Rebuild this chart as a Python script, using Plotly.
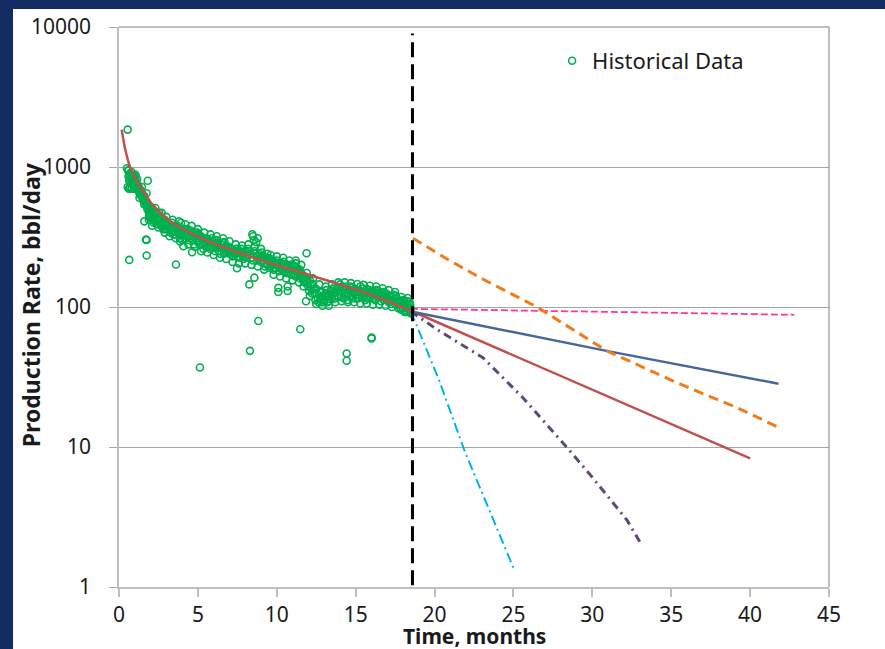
import plotly.graph_objects as go

# ---------------- data ----------------
hist_time = [
    0.50, 0.55, 0.55, 0.60, 0.65, 0.65, 0.70, 0.72, 0.78, 0.80, 0.85, 0.88, 0.92, 0.95, 1.00, 1.02, 1.05, 1.08, 1.10,
    1.15, 1.20, 1.25, 1.30, 1.35, 1.40, 1.45, 1.50, 1.55, 1.60, 1.65, 1.70, 1.71, 1.75, 1.75, 1.80, 1.82, 1.85, 1.90, 1.95, 2.00,
    2.05, 2.10, 2.15, 2.20, 2.25, 2.28, 2.30, 2.35, 2.40, 2.45, 2.50, 2.55, 2.60, 2.65, 2.70, 2.75, 2.80, 2.85, 2.90, 2.95, 3.00,
    3.05, 3.10, 3.20, 3.30, 3.40, 3.50, 3.55, 3.61, 3.65, 3.75, 3.85, 3.87, 3.93, 4.00, 4.08, 4.10, 4.20, 4.30, 4.40, 4.50, 4.60, 4.63, 4.70, 4.80, 4.90, 5.00, 5.05,
    5.13, 5.10, 5.20, 5.30, 5.40, 5.50, 5.60, 5.70, 5.80, 5.90, 6.00, 6.10, 6.20, 6.30, 6.40, 6.50, 6.60, 6.70, 6.80, 6.90, 7.00, 7.10, 7.20,
    7.30, 7.40, 7.48, 7.50, 7.60, 7.70, 7.80, 7.90, 8.00, 8.10, 8.20, 8.26, 8.30, 8.35, 8.45, 8.50, 8.55, 8.58, 8.60, 8.70, 8.79, 8.83, 8.85, 8.90, 9.00, 9.10, 9.20, 9.30, 9.40,
    9.50, 9.60, 9.70, 9.80, 9.90, 10.00, 10.10, 10.10, 10.20, 10.30, 10.40, 10.50, 10.60, 10.69, 10.69, 10.70, 10.80, 10.90, 11.00, 11.10, 11.20, 11.30, 11.40, 11.49, 11.50,
    11.60, 11.70, 11.80, 11.85, 11.89, 11.90, 12.00, 12.10, 12.20, 12.30, 12.40, 12.50, 12.60, 12.70, 12.80, 12.90, 13.00, 13.10, 13.20, 13.30, 13.40, 13.50,
    13.60, 13.70, 13.80, 13.90, 14.00, 14.10, 14.20, 14.30, 14.43, 14.43, 14.40, 14.50, 14.60, 14.70, 14.80, 14.90, 15.00, 15.10, 15.20, 15.30, 15.40, 15.50, 15.60,
    15.70, 15.80, 15.90, 16.01, 16.01, 16.00, 16.10, 16.20, 16.30, 16.40, 16.50, 16.60, 16.70, 16.80, 16.90, 17.00, 17.10, 17.20, 17.30, 17.40, 17.50, 17.60, 17.70,
    17.80, 17.90, 18.00, 18.05, 18.10, 18.15, 18.20, 18.25, 18.30, 18.35, 18.40, 18.45, 18.50,
    # second pass through the band
    0.58, 0.62, 0.68, 0.75, 0.82, 0.90, 0.98, 1.04, 1.12,
    1.18, 1.28, 1.38, 1.48, 1.58, 1.68, 1.78, 1.88, 1.98, 1.60, 1.90,
    2.08, 2.18, 2.32, 2.42, 2.52, 2.62, 2.72, 2.82, 2.92, 2.12,
    3.15, 3.25, 3.35, 3.45, 3.60, 3.70, 3.80, 3.95, 4.15, 4.25, 4.35, 4.45, 4.55, 4.65, 4.75, 4.85, 4.95,
    5.15, 5.25, 5.35, 5.45, 5.55, 5.65, 5.75, 5.85, 5.95, 6.05, 6.15, 6.25, 6.35, 6.45, 6.55, 6.65, 6.75, 6.85, 6.95, 7.05, 7.15,
    7.35, 7.45, 7.55, 7.65, 7.75, 7.85, 7.95, 8.05, 8.15, 8.40, 8.50, 8.65, 8.75, 8.95, 9.05, 9.15, 9.25, 9.35, 8.70,
    9.45, 9.55, 9.65, 9.75, 9.85, 9.95, 10.05, 10.15, 10.25, 10.35, 10.45, 10.55, 10.65, 10.75, 10.85, 10.95, 11.05, 11.15, 11.25, 11.35, 11.45, 11.20,
    11.55, 11.65, 11.75, 11.95, 12.05, 12.15, 12.25, 12.35, 12.45, 12.55, 12.65, 12.75, 12.85, 12.95, 13.05, 13.15, 13.25, 13.35, 13.45, 13.55,
    13.65, 13.75, 13.85, 13.95, 14.05, 14.15, 14.25, 14.35, 14.55, 14.65, 14.75, 14.85, 14.95, 15.05, 15.15, 15.25, 15.35, 15.45, 15.55, 15.65,
    15.75, 15.85, 15.95, 16.05, 16.15, 16.25, 16.35, 16.45, 16.55, 16.65, 16.75, 16.85, 16.95, 17.05, 17.15, 17.25, 17.35, 17.45, 17.55, 17.65, 17.75,
    17.85, 17.95, 18.02, 18.12, 18.22, 18.28, 18.38, 18.42, 18.48,
    # band edges
    0.60, 0.70, 0.80, 0.95, 1.05,
    1.15, 1.30, 1.45, 1.60, 1.75, 1.90, 2.00,
    2.10, 2.30, 2.50, 2.70, 2.90, 3.00,
    3.20, 3.40, 3.60, 3.80, 4.00, 4.20, 4.40, 4.60, 4.80, 5.00,
    5.20, 5.40, 5.60, 5.80, 6.00, 6.20, 6.40, 6.60, 6.80, 7.00, 7.20,
    7.40, 7.60, 7.80, 8.00, 8.20, 8.40, 8.60, 8.80, 9.00, 9.20, 9.40,
    9.60, 9.80, 10.00, 10.20, 10.40, 10.60, 10.80, 11.00, 11.20, 11.40, 11.55,
    11.70, 11.90, 12.10, 12.30, 12.50, 12.70, 12.90, 13.10, 13.30, 13.50,
    13.70, 13.90, 14.10, 14.30, 14.50, 14.70, 14.90, 15.10, 15.30, 15.50, 15.70, 15.90, 16.10, 16.30, 16.50, 16.70, 16.90, 17.10, 17.30, 17.50, 17.70,
    17.90, 18.10, 18.30, 18.50,
]
hist_rate = [
    980, 1850, 720, 860, 217, 800, 900, 760, 840, 700, 880, 780, 820, 740, 860, 800, 760, 720, 700,
    760, 680, 720, 650, 690, 620, 660, 600, 580, 620, 560, 540, 303, 301, 233, 500, 797, 520, 470, 480, 440,
    470, 420, 450, 400, 480, 409, 430, 460, 390, 440, 420, 470, 400, 380, 430, 410, 360, 400, 420, 380, 390,
    360, 400, 370, 340, 380, 350, 330, 201, 370, 340, 310, 294, 400, 350, 272, 330, 360, 320, 340, 310, 330, 246, 300, 340, 310, 290, 330,
    37, 300, 320, 280, 310, 270, 300, 290, 260, 310, 280, 250, 300, 270, 240, 280, 260, 290, 250, 270, 240, 260, 230,
    250, 240, 189, 260, 230, 250, 240, 220, 250, 235, 260, 145, 48.6, 240, 331, 215, 300, 162, 250, 230, 310, 79.5, 220, 240, 210, 230, 205, 225, 200,
    215, 195, 210, 185, 200, 215, 137, 128, 190, 205, 180, 200, 175, 140, 130, 195, 185, 170, 200, 180, 165, 190, 175, 69.4, 160,
    170, 155, 165, 110, 242, 150, 140, 155, 135, 145, 125, 135, 115, 128, 108, 120, 112, 125, 108, 118, 130, 115,
    125, 140, 120, 130, 145, 118, 135, 125, 46.5, 41.3, 140, 112, 130, 120, 138, 125, 115, 132, 122, 140, 118, 128, 112,
    135, 120, 126, 60.5, 59.5, 130, 115, 124, 132, 118, 126, 110, 122, 128, 115, 120, 108, 118, 112, 122, 105, 115, 110,
    100, 108, 98, 112, 102, 95, 105, 98, 110, 100, 94, 104, 97,
    # second pass through the band
    940, 700, 830, 880, 760, 850, 780, 830, 740,
    720, 700, 650, 630, 600, 580, 530, 500, 460, 409, 420,
    450, 430, 470, 420, 440, 420, 390, 420, 360, 500,
    390, 360, 400, 330, 360, 380, 350, 330, 310, 340, 360, 300, 350, 320, 280, 320, 340,
    280, 310, 260, 290, 310, 270, 300, 280, 265, 300, 270, 280, 250, 265, 290, 240, 270, 260, 250, 265, 245,
    235, 260, 245, 225, 260, 230, 245, 225, 250, 225, 320, 240, 215, 225, 245, 215, 195, 215, 290,
    225, 190, 220, 200, 210, 190, 205, 180, 195, 185, 210, 190, 200, 175, 200, 185, 170, 195, 180, 170, 185, 215,
    175, 160, 150, 160, 130, 145, 125, 135, 112, 125, 108, 118, 128, 108, 118, 132, 122, 110, 125, 135,
    115, 128, 138, 118, 130, 140, 115, 132, 125, 140, 115, 128, 135, 122, 115, 130, 125, 135, 120, 125,
    115, 132, 118, 125, 130, 112, 122, 130, 118, 126, 113, 120, 125, 112, 120, 105, 118, 110, 120, 104, 112,
    96, 104, 110, 100, 92, 104, 98, 108, 92,
    # band edges
    950, 720, 920, 700, 880,
    820, 600, 720, 540, 650, 440, 520,
    380, 510, 370, 470, 340, 440,
    320, 420, 310, 410, 300, 390, 280, 380, 270, 360,
    250, 340, 245, 330, 235, 320, 225, 310, 220, 295, 210,
    280, 205, 275, 205, 280, 200, 270, 195, 260, 185, 240,
    235, 170, 230, 165, 225, 160, 215, 155, 205, 150, 200,
    140, 175, 120, 160, 105, 145, 102, 140, 102, 145,
    108, 150, 110, 150, 108, 148, 108, 146, 106, 144, 106, 142, 104, 140, 104, 136, 102, 132, 100, 128, 98,
    118, 92, 116, 90,
]

fit_time = [0.17, 0.38, 0.65, 0.9, 1.2, 1.6, 2.0, 2.5, 3, 4, 5, 6, 7, 8, 9, 10, 11, 12, 13, 14, 15, 16, 17, 18, 18.5]
fit_rate = [1850, 1360, 1040, 885, 770, 660, 560, 485, 430, 362, 318, 284, 258, 236, 216, 199, 184, 170, 157, 145, 133, 122, 110, 99, 94]

red_time = [18.5, 40.0]
red_rate = [94, 8.3]
blue_time = [18.5, 30.9, 41.8]
blue_rate = [93, 48.6, 28.3]
pink_time = [18.5, 42.8]
pink_rate = [97, 88]
orange_time = [18.63, 20.79, 23.07, 26.49, 30.92, 35.36, 38.09, 38.9, 41.7]
orange_rate = [310, 220, 158, 100, 48.6, 28.8, 21.4, 19.7, 14.0]
purple_time = [18.5, 20.1, 23.07, 25.6, 28.4, 30.0, 32.2, 33.1]
purple_rate = [93, 69.7, 43.4, 22.5, 9.9, 6.07, 3.0, 2.02]
cyan_time = [18.5, 20.3, 21.9, 25.0]
cyan_rate = [93, 29.7, 9.4, 1.37]

cutoff_time = [18.6, 18.6]
cutoff_rate = [1.03, 9000]

x_ticks = [0, 5, 10, 15, 20, 25, 30, 35, 40, 45]
y_ticks = [1, 10, 100, 1000, 10000]

# ---------------- figure ----------------
NAVY = "#142A63"
FONT = "Noto Sans"

fig = go.Figure()

fig.add_trace(go.Scatter(
    x=hist_time, y=hist_rate, mode="markers", name="Historical Data",
    marker=dict(symbol="circle-open", size=7, color="#00B050", line=dict(width=1.6, color="#00B050")),
))
fig.add_trace(go.Scatter(x=fit_time, y=fit_rate, mode="lines", showlegend=False,
                         line=dict(color="#C0504D", width=2.5, shape="spline", smoothing=0.8)))
fig.add_trace(go.Scatter(x=red_time, y=red_rate, mode="lines", showlegend=False,
                         line=dict(color="#C0504D", width=2.5)))
fig.add_trace(go.Scatter(x=blue_time, y=blue_rate, mode="lines", showlegend=False,
                         line=dict(color="#46679A", width=2.5)))
fig.add_trace(go.Scatter(x=pink_time, y=pink_rate, mode="lines", showlegend=False,
                         line=dict(color="#FF3399", width=1.75, dash="7px,3px")))
fig.add_trace(go.Scatter(x=orange_time, y=orange_rate, mode="lines", showlegend=False,
                         line=dict(color="#F07D1A", width=3, dash="10px,6px")))
fig.add_trace(go.Scatter(x=purple_time, y=purple_rate, mode="lines", showlegend=False,
                         line=dict(color="#60497A", width=3, dash="8px,5px,2px,5px")))
fig.add_trace(go.Scatter(x=cyan_time, y=cyan_rate, mode="lines", showlegend=False,
                         line=dict(color="#00B0F0", width=2, dash="10px,4px,2px,4px")))
fig.add_trace(go.Scatter(x=cutoff_time, y=cutoff_rate, mode="lines", showlegend=False,
                         line=dict(color="black", width=3, dash="15px,7px")))

fig.update_layout(
    width=885, height=649,
    margin=dict(l=119, r=56, t=25, b=62),
    paper_bgcolor=NAVY,
    plot_bgcolor="white",
    font=dict(family=FONT, size=21, color="#1a1a1a"),
    showlegend=True,
    legend=dict(x=0.61, y=0.977, xanchor="left", yanchor="top", bgcolor="rgba(0,0,0,0)",
                font=dict(family=FONT, size=22, color="#1a1a1a"), itemwidth=30),
    shapes=[
        dict(type="rect", xref="paper", yref="paper", x0=-0.1493, x1=1.08, y0=-0.12, y1=1.032,
             fillcolor="white", line=dict(width=0), layer="below"),
        dict(type="line", xref="paper", yref="paper", x0=0, x1=1, y0=1, y1=1,
             line=dict(color="#808080", width=1)),
        dict(type="line", xref="paper", yref="paper", x0=1, x1=1, y0=0, y1=1,
             line=dict(color="#808080", width=1)),
    ],
    annotations=[
        dict(text="<b>Time, months</b>", xref="paper", yref="paper", x=0.5, y=-0.088,
             xanchor="center", yanchor="middle", showarrow=False,
             font=dict(family=FONT, size=21, color="#1a1a1a")),
        dict(text="<b>Production Rate, bbl/day</b>", xref="paper", yref="paper", x=-0.124, y=0.505,
             xanchor="center", yanchor="middle", showarrow=False, textangle=-90,
             font=dict(family=FONT, size=23, color="#1a1a1a")),
    ],
)

fig.update_xaxes(
    range=[0, 45], tickvals=x_ticks, ticktext=[str(v) for v in x_ticks],
    showgrid=False, zeroline=False, showline=True, linecolor="#BFBFBF", linewidth=1.5,
    ticks="outside", ticklen=8, tickcolor="#BFBFBF", tickwidth=1.5,
)
fig.update_yaxes(
    type="log", range=[0, 4], tickvals=y_ticks, ticktext=[str(v) for v in y_ticks],
    showgrid=True, gridcolor="#A6A6A6", gridwidth=1, zeroline=False,
    showline=True, linecolor="#BFBFBF", linewidth=1.5,
    ticks="outside", ticklen=8, tickcolor="#A6A6A6", tickwidth=1, ticklabelstandoff=14,
)

fig.write_html(
    "out.html",
    config={"displayModeBar": False},
    post_script="document.body.style.margin='0';document.body.style.background='" + NAVY + "';",
)
